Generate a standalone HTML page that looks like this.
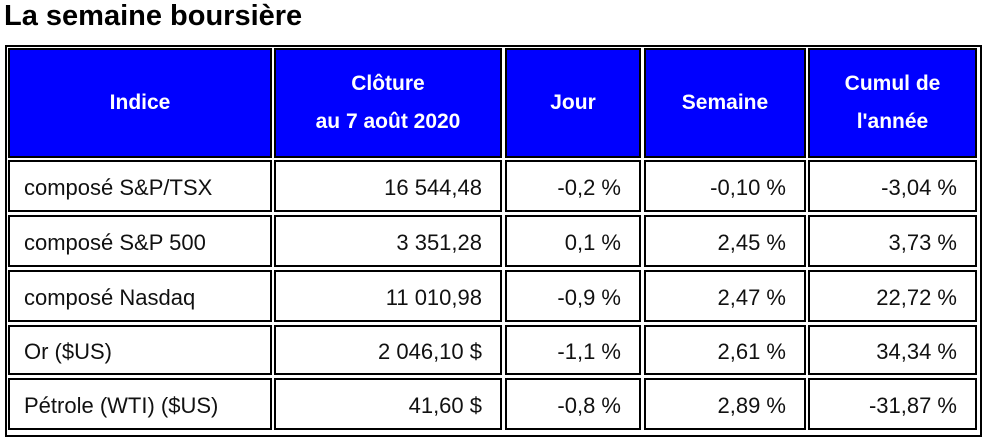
<!DOCTYPE html>
<html><head><meta charset="utf-8"><style>
body{margin:0;width:985px;height:442px;background:#fff;position:relative;overflow:hidden;font-family:"Liberation Sans",sans-serif;}
.t{position:absolute;left:4px;top:0px;font-size:29px;font-weight:bold;color:#000;}
.o{position:absolute;left:5px;top:45px;width:973px;height:388px;border:2px solid #000;}
.c{position:absolute;box-sizing:border-box;border:2px solid #000;display:flex;align-items:center;font-size:22px;color:#111;padding-top:3px;}
.h{background:#0000ff;color:#fff;font-weight:bold;justify-content:center;text-align:center;line-height:38px;font-size:21px;padding-top:0;}
.l{padding-left:14px;}
.r{justify-content:flex-end;padding-right:18px;}
</style></head><body>
<div class="t">La semaine boursière</div>
<div class="o"></div>
<div class="c h" style="left:8px;top:48px;width:264px;height:110px">Indice</div>
<div class="c h" style="left:274px;top:48px;width:228px;height:110px">Clôture<br>au 7 août 2020</div>
<div class="c h" style="left:505px;top:48px;width:136px;height:110px">Jour</div>
<div class="c h" style="left:644px;top:48px;width:162px;height:110px">Semaine</div>
<div class="c h" style="left:808px;top:48px;width:169px;height:110px">Cumul de<br>l'année</div>

<div class="c l" style="left:8px;top:160px;width:264px;height:52px">composé S&amp;P/TSX</div>
<div class="c r" style="left:274px;top:160px;width:228px;height:52px">16 544,48</div>
<div class="c r" style="left:505px;top:160px;width:136px;height:52px">-0,2 %</div>
<div class="c r" style="left:644px;top:160px;width:162px;height:52px">-0,10 %</div>
<div class="c r" style="left:808px;top:160px;width:169px;height:52px">-3,04 %</div>

<div class="c l" style="left:8px;top:215px;width:264px;height:52px">composé S&amp;P 500</div>
<div class="c r" style="left:274px;top:215px;width:228px;height:52px">3 351,28</div>
<div class="c r" style="left:505px;top:215px;width:136px;height:52px">0,1 %</div>
<div class="c r" style="left:644px;top:215px;width:162px;height:52px">2,45 %</div>
<div class="c r" style="left:808px;top:215px;width:169px;height:52px">3,73 %</div>

<div class="c l" style="left:8px;top:270px;width:264px;height:52px">composé Nasdaq</div>
<div class="c r" style="left:274px;top:270px;width:228px;height:52px">11 010,98</div>
<div class="c r" style="left:505px;top:270px;width:136px;height:52px">-0,9 %</div>
<div class="c r" style="left:644px;top:270px;width:162px;height:52px">2,47 %</div>
<div class="c r" style="left:808px;top:270px;width:169px;height:52px">22,72 %</div>

<div class="c l" style="left:8px;top:325px;width:264px;height:50px">Or ($US)</div>
<div class="c r" style="left:274px;top:325px;width:228px;height:50px">2 046,10 $</div>
<div class="c r" style="left:505px;top:325px;width:136px;height:50px">-1,1 %</div>
<div class="c r" style="left:644px;top:325px;width:162px;height:50px">2,61 %</div>
<div class="c r" style="left:808px;top:325px;width:169px;height:50px">34,34 %</div>

<div class="c l" style="left:8px;top:378px;width:264px;height:52px">Pétrole (WTI) ($US)</div>
<div class="c r" style="left:274px;top:378px;width:228px;height:52px">41,60 $</div>
<div class="c r" style="left:505px;top:378px;width:136px;height:52px">-0,8 %</div>
<div class="c r" style="left:644px;top:378px;width:162px;height:52px">2,89 %</div>
<div class="c r" style="left:808px;top:378px;width:169px;height:52px">-31,87 %</div>
</body></html>
